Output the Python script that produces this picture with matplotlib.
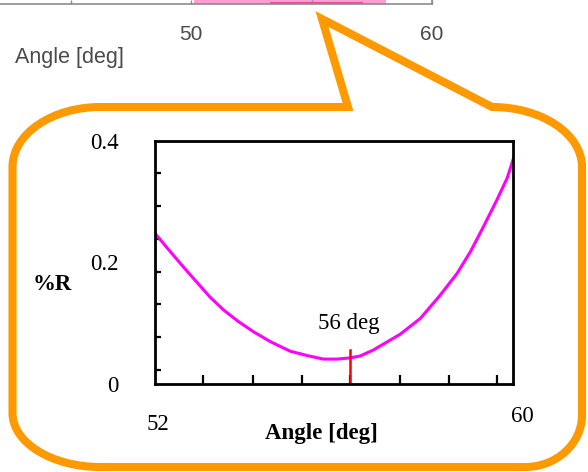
import matplotlib
matplotlib.use('Agg')
import matplotlib.pyplot as plt
from matplotlib.path import Path
from matplotlib.patches import PathPatch

# --- data: %R vs angle, zoomed view ---
angle_deg = [52.00, 52.34, 52.63, 52.93, 53.23, 53.53, 53.86, 54.20, 54.57,
             55.02, 55.39, 55.76, 56.06, 56.36, 56.58, 56.88, 57.48, 57.93,
             58.37, 58.75, 59.05, 59.34, 59.64, 59.87, 60.00]
reflect_pct = [0.248, 0.218, 0.193, 0.168, 0.143, 0.122, 0.103, 0.086, 0.070,
               0.054, 0.047, 0.041, 0.041, 0.043, 0.046, 0.056, 0.082, 0.108,
               0.146, 0.182, 0.218, 0.259, 0.303, 0.339, 0.369]
min_angle = 56.36
min_mark_top = 0.056
min_label = "56 deg"

x_labels = ["52", "60"]
x_label_vals = [52, 60]
x_minor = [53.08, 54.20, 55.28, 56.36, 57.48, 58.56, 59.64]
y_tick_vals = [0, 0.2, 0.4]
y_tick_text = ["0", "0.2", "0.4"]
y_minor = [0.023, 0.077, 0.131, 0.185, 0.239, 0.293, 0.347]

# --- the cropped chart above (only its bottom edge is visible) ---
top_ticks = [45, 50, 55, 60]
top_tick_text = ["", "50", "", "60"]
top_band_x = [50.1, 58.1]
top_dark_x = [53.3, 57.1]

ORANGE = '#FF9900'
serif = ['Liberation Serif', 'DejaVu Serif']
sans = ['Liberation Sans', 'DejaVu Sans']

fig = plt.figure(figsize=(5.88, 4.72), dpi=100)

# background layer in pixel coords (y down) for the callout bubble
bg = fig.add_axes([0, 0, 1, 1])
bg.set_xlim(0, 588)
bg.set_ylim(472, 0)
bg.axis('off')

L, R, T, B = 12.5, 582, 107, 467
k = 0.5523
rtl, rtr, rbr, rbl = (88, 60), (90, 60), (57, 52), (88, 54)
verts = [
    (L + rtl[0], T), (348, T), (322, 19), (492, T), (R - rtr[0], T),
    (R - rtr[0] + k * rtr[0], T), (R, T + rtr[1] - k * rtr[1]), (R, T + rtr[1]),
    (R, B - rbr[1]),
    (R, B - rbr[1] + k * rbr[1]), (R - rbr[0] + k * rbr[0], B), (R - rbr[0], B),
    (L + rbl[0], B),
    (L + rbl[0] - k * rbl[0], B), (L, B - rbl[1] + k * rbl[1]), (L, B - rbl[1]),
    (L, T + rtl[1]),
    (L, T + rtl[1] - k * rtl[1]), (L + rtl[0] - k * rtl[0], T), (L + rtl[0], T),
    (0, 0),
]
codes = ([Path.MOVETO] + [Path.LINETO] * 4 + [Path.CURVE4] * 3 + [Path.LINETO]
         + [Path.CURVE4] * 3 + [Path.LINETO] + [Path.CURVE4] * 3 + [Path.LINETO]
         + [Path.CURVE4] * 3 + [Path.CLOSEPOLY])
bubble = PathPatch(Path(verts, codes), facecolor='white', edgecolor=ORANGE,
                   linewidth=5.8, joinstyle='miter')
bg.add_patch(bubble)

bg.text(15, 57, "Angle [deg]", family=sans, fontsize=15.5, color='#4a4a4a',
        ha='left', va='center')

# top chart remnant
top = fig.add_axes([0, (472 - 4) / 472, 432 / 588, 64 / 472])
top.set_facecolor('none')
top.set_xlim(42.05, 60)
top.set_ylim(0, 1)
top.fill_between(top_band_x, 0, 0.12, color='#ff9ed2', linewidth=0)
top.plot(top_dark_x, [0.02, 0.02], color='#e0509f', linewidth=1.5)
for s in ['top', 'left']:
    top.spines[s].set_visible(False)
for s in ['bottom', 'right']:
    top.spines[s].set_color('#8c8c8c')
    top.spines[s].set_linewidth(1.2)
top.set_yticks([])
top.set_xticks(top_ticks)
top.set_xticklabels(top_tick_text, family=sans, fontsize=15, color='#4a4a4a')
top.tick_params(axis='x', direction='in', length=3, width=1, color='#8c8c8c', pad=15)

# main zoomed chart
ax = fig.add_axes([155 / 588, (472 - 384) / 472, 358 / 588, 243 / 472])
ax.plot(angle_deg, reflect_pct, color='#FF00FF', linewidth=2.2, solid_joinstyle='round')
ax.plot([min_angle, min_angle], [0, min_mark_top], color='#FF0000', linewidth=1.8)
ax.text(min_angle - 0.04, 0.099, min_label, family=serif, fontsize=16.5,
        ha='center', va='center')
ax.set_xlim(52, 60)
ax.set_ylim(0, 0.4)

for s in ax.spines.values():
    s.set_linewidth(2)
ax.set_xticks([])
ax.set_xticks(x_minor, minor=True)
ax.set_yticks(y_tick_vals)
ax.set_yticklabels(y_tick_text, family=serif, fontsize=16.5)
ax.set_yticks(y_minor, minor=True)
ax.tick_params(axis='y', which='major', length=0, pad=26)
ax.tick_params(axis='y', which='minor', direction='in', length=4, width=1.6)
ax.tick_params(axis='x', which='minor', direction='in', length=6.5, width=1.6)

ax.annotate(x_labels[0], xy=(x_label_vals[0], 0), xytext=(2.5, -41),
            textcoords='offset pixels', family=serif, fontsize=16.5,
            ha='center', va='center', annotation_clip=False)
ax.annotate(x_labels[1], xy=(x_label_vals[1], 0), xytext=(9, -33),
            textcoords='offset pixels', family=serif, fontsize=16.5,
            ha='center', va='center', annotation_clip=False)

ax.set_xlabel("Angle [deg]", family=serif, fontsize=16.5, fontweight='bold', va='center')
ax.xaxis.set_label_coords((321 - 155) / 358, -(433 - 384) / 243)
ax.set_ylabel("%R", family=serif, fontsize=16.5, fontweight='bold',
              rotation=0, ha='center', va='center')
ax.yaxis.set_label_coords((52 - 155) / 358, (384 - 284) / 243)

fig.savefig('out.png', dpi=100)
